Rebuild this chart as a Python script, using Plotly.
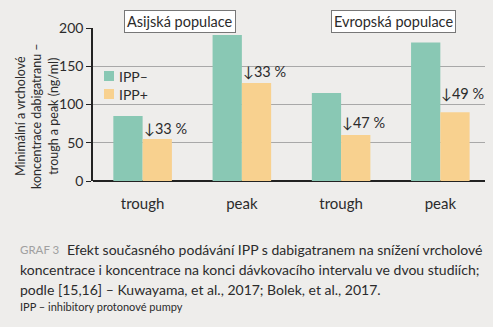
import plotly.graph_objects as go

categories = ["trough", "peak", "trough", "peak"]
ipp_minus = [85, 191, 115, 181]
ipp_plus = [55, 128, 60, 90]
drops = ["↓33 %", "↓33 %", "↓47 %", "↓49 %"]
drop_label_y = [69, 143, 76, 114]
groups = ["Asijská populace", "Evropská populace"]
series_names = ["IPP–", "IPP+"]
y_ticks = [0, 50, 100, 150, 200]

W, H = 493, 327
L, R, T, B = 93, 8, 28, 146
font = "Lato"
txt = "#2b2b2b"
colors = ["#89c8b4", "#f8d18f"]

xs = list(range(len(categories)))

fig = go.Figure()
fig.add_bar(x=xs, y=ipp_minus, name=series_names[0], marker=dict(color=colors[0], line_width=0))
fig.add_bar(x=xs, y=ipp_plus, name=series_names[1], marker=dict(color=colors[1], line_width=0))

def py(p):
    return (H - B - p) / (H - T - B)

def px(p):
    return (p - L) / (W - L - R)

ann = []
shapes = []
for i, (t, yv) in enumerate(zip(drops, drop_label_y)):
    ann.append(dict(x=xs[i] - 0.01, y=yv, xref="x", yref="y", text=t, showarrow=False,
                    xanchor="left", yanchor="middle", font=dict(size=14.5, color=txt, family=font)))

for gx, g in zip([180, 393], groups):
    ann.append(dict(x=px(gx), y=py(22), xref="paper", yref="paper", text=g, showarrow=False,
                    xanchor="center", yanchor="middle", bgcolor="#ffffff", bordercolor="#777777",
                    borderwidth=1, borderpad=2, font=dict(size=14.5, color=txt, family=font)))

# custom legend
for k, (nm, c) in enumerate(zip(series_names, colors)):
    cy = 76 + 18 * k
    shapes.append(dict(type="rect", xref="paper", yref="paper", x0=px(104), x1=px(114),
                       y0=py(cy - 5), y1=py(cy + 5), fillcolor=c, line_width=0))
    ann.append(dict(x=px(117), y=py(cy), xref="paper", yref="paper", text=nm, showarrow=False,
                    xanchor="left", yanchor="middle", font=dict(size=14, color=txt, family=font)))

ann.append(dict(x=px(37), y=py(116), xref="paper", yref="paper",
                text="Minimální a vrcholové<br>koncentrace dabigatranu –<br>trough a peak (ng/ml)",
                showarrow=False, textangle=-90, xanchor="center", yanchor="middle", align="center",
                font=dict(size=12.5, color=txt, family=font)))

caption = [
    (65, 249, "Efekt současného podávání IPP s dabigatranem na snížení vrcholové", 14),
    (18, 269, "koncentrace i koncentrace na konci dávkovacího intervalu ve dvou studiích;", 14),
    (18, 289, "podle [15,16] – Kuwayama, et al., 2017; Bolek, et al., 2017.", 14),
    (18, 306, "IPP – inhibitory protonové pumpy", 11),
]
for x0, y0, t, s in caption:
    ann.append(dict(x=px(x0), y=py(y0), xref="paper", yref="paper", text=t, showarrow=False,
                    xanchor="left", yanchor="middle", font=dict(size=s, color=txt, family=font)))
ann.append(dict(x=px(18), y=py(249), xref="paper", yref="paper", text="GRAF 3", showarrow=False,
                xanchor="left", yanchor="middle", font=dict(size=11.5, color="#a0a0a0", family=font)))

fig.update_layout(
    width=W, height=H, margin=dict(l=L, r=R, t=T, b=B),
    paper_bgcolor="#eeedeb", plot_bgcolor="#eeedeb",
    barmode="group", bargap=0.41, bargroupgap=0,
    font=dict(family=font, color=txt),
    showlegend=False,
    annotations=ann, shapes=shapes,
    xaxis=dict(range=[-0.5, 3.45], tickvals=xs, ticktext=categories, showgrid=False,
               showline=False, zeroline=False, ticks="", tickfont=dict(size=15, color=txt),
               ticklabelstandoff=12),
    yaxis=dict(range=[0, 200], tickvals=y_ticks, showgrid=True, gridcolor="#a8a8a8", gridwidth=1,
               zeroline=True, zerolinecolor="#222222", zerolinewidth=1.5,
               showline=True, linecolor="#222222", linewidth=1.5, ticks="outside", ticklen=5,
               tickcolor="#222222", tickfont=dict(size=14, color=txt)),
)

fig.write_html("out.html")
